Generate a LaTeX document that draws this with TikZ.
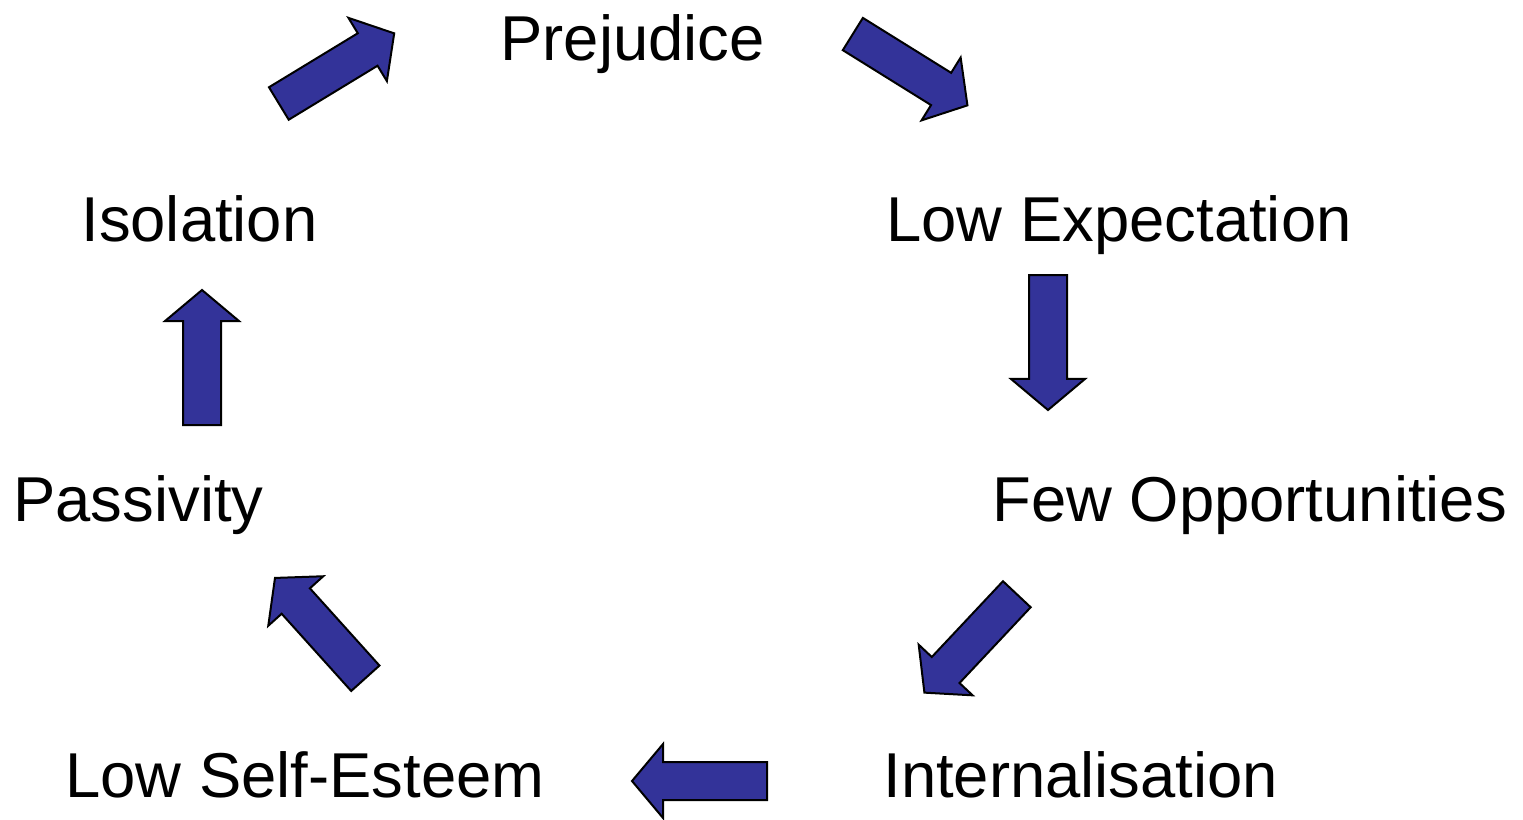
\documentclass[tikz,border=0pt]{standalone}
\usepackage{fontspec}
\setmainfont{Liberation Sans}
\usepackage{xcolor}
\usepackage{tikz}
\usetikzlibrary{shapes.arrows}
\definecolor{arrowblue}{HTML}{333399}

\begin{document}
\begin{tikzpicture}[x=0.5pt, y=-0.5pt,
    label/.style={anchor=base west, inner sep=0pt, font=\fontsize{31.7}{36}\selectfont},
    blockarrow/.style={shape=single arrow, draw=black, line width=1pt, fill=arrowblue,
        minimum height=67.5pt, inner xsep=0pt, inner ysep=9pt,
        single arrow head extend=9pt, single arrow tip angle=100, anchor=tail}]
    \useasboundingbox (0,0) rectangle (1523,820);

    % --- Labels ---
    \node[label] (pre)     at (500,60)  {Prejudice};
    \node[label] (lowexp)  at (886,241) {Low Expectation};
    \node[label] (few)     at (992,521) {Few Opportunities};
    \node[label] (intern)  at (883,797) {Internalisation};
    \node[label] (selfest) at (65,797)  {Low Self-Esteem};
    \node[label] (pass)    at (13,521)  {Passivity};
    \node[label] (iso)     at (81,241)  {Isolation};

    % --- Block arrows ---
    \node[blockarrow, rotate=31.3]   (isotopre)    at (278,104)    {};
    \node[blockarrow, rotate=-31.9]  (pretolow)    at (852,33.5)   {};
    \node[blockarrow, rotate=-90]    (lowtofew)    at (1048,274)   {};
    \node[blockarrow, rotate=-133.2] (fewtoint)    at (1017.5,593.5) {};
    \node[blockarrow, rotate=180]    (inttoself)   at (768,781)    {};
    \node[blockarrow, rotate=132]    (selftopass)  at (366,679)    {};
    \node[blockarrow, rotate=90]     (passtoiso)   at (202,426)    {};
\end{tikzpicture}
\end{document}
